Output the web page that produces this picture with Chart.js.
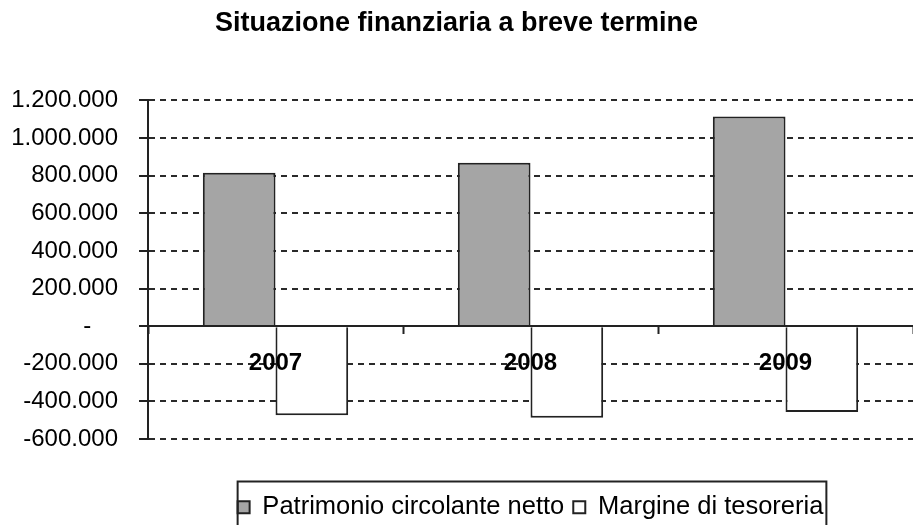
<!DOCTYPE html>
<html>
<head>
<meta charset="utf-8">
<script src="https://cdn.jsdelivr.net/npm/chart.js@4"></script>
<style>
	html, body { margin: 0; padding: 0; background: #fff; overflow: hidden; }
	#grafico { display: block; }
</style>
</head>
<body>
<canvas id="grafico" width="913" height="525"></canvas>
<script>
const anni = ["2007", "2008", "2009"];
const patrimonio = [816000, 869000, 1115000];
const margine = [-473000, -487000, -456000];
const yMin = -600000;
const yMax = 1200000;
const yStep = 200000;

function formatta(v) {
	if (v === 0) return "-    ";
	const s = String(Math.abs(v)).replace(/\B(?=(\d{3})+(?!\d))/g, ".");
	return (v < 0 ? "-" : "") + s;
}

// riquadro attorno alla legenda, come in Excel
const bordoLegenda = {
	id: "bordoLegenda",
	afterDraw(chart) {
		const boxes = chart.legend.legendHitBoxes;
		if (!boxes || !boxes.length) return;
		const ctx = chart.ctx;
		const primo = boxes[0];
		const ultimo = boxes[boxes.length - 1];
		ctx.save();
		ctx.strokeStyle = "#222";
		ctx.lineWidth = 2;
		ctx.strokeRect(primo.left, primo.top - 13, ultimo.left + ultimo.width - primo.left + 3, chart.height);
		ctx.restore();
	},
};

const grafico = new Chart(document.querySelector("#grafico"), {
	type: "bar",
	data: {
		labels: anni,
		datasets: [
			{
				label: "Patrimonio circolante netto",
				data: patrimonio,
				backgroundColor: "#a5a5a5",
				borderColor: "#222",
				borderWidth: 2,
			},
			{
				label: "Margine di tesoreria",
				data: margine,
				backgroundColor: "#fff",
				borderColor: "#222",
				borderWidth: 2,
			},
		],
	},
	options: {
		responsive: false,
		animation: false,
		devicePixelRatio: 1,
		layout: {
			padding: { left: 0, right: 0, top: 0, bottom: -5 },
		},
		datasets: {
			bar: {
				categoryPercentage: 0.57,
				barPercentage: 1.0,
			},
		},
		scales: {
			x: {
				position: { y: 0 },
				grid: {
					display: true,
					drawOnChartArea: false,
					drawTicks: true,
					offset: true,
					tickLength: 7,
					tickColor: "#222",
					tickWidth: 2,
					z: 1,
				},
				border: { display: true, color: "#222", width: 2, z: 1 },
				ticks: {
					z: 1,
					color: "#000",
					padding: 23,
					font: { family: "Liberation Sans", size: 24, weight: "bold", lineHeight: 0.6 },
				},
			},
			y: {
				min: yMin,
				max: yMax,
				afterFit: (scala) => {
					scala.width = 148;
				},
				grid: {
					color: "#2a2a2a",
					lineWidth: 2,
					tickLength: 9,
					tickColor: "#222",
					tickWidth: 2,
					tickBorderDash: [],
				},
				border: { display: true, color: "#222", width: 2, dash: [6, 5] },
				ticks: {
					stepSize: yStep,
					color: "#000",
					padding: 21,
					font: { family: "Liberation Sans", size: 24 },
					callback: (v) => formatta(v),
				},
			},
		},
		plugins: {
			title: {
				display: true,
				text: "Situazione finanziaria a breve termine",
				color: "#000",
				font: { family: "Liberation Sans", size: 27, weight: "bold" },
				padding: { top: 7, bottom: 61 },
			},
			legend: {
				position: "bottom",
				fullSize: false,
				title: {
					display: true,
					text: "",
					font: { size: 12 },
					padding: { top: 32, bottom: 0 },
				},
				labels: {
					color: "#000",
					boxWidth: 12,
					boxHeight: 12,
					padding: 9,
					font: { family: "Liberation Sans", size: 25.5 },
				},
			},
			tooltip: { enabled: false },
		},
	},
	plugins: [bordoLegenda],
});
</script>
</body>
</html>
